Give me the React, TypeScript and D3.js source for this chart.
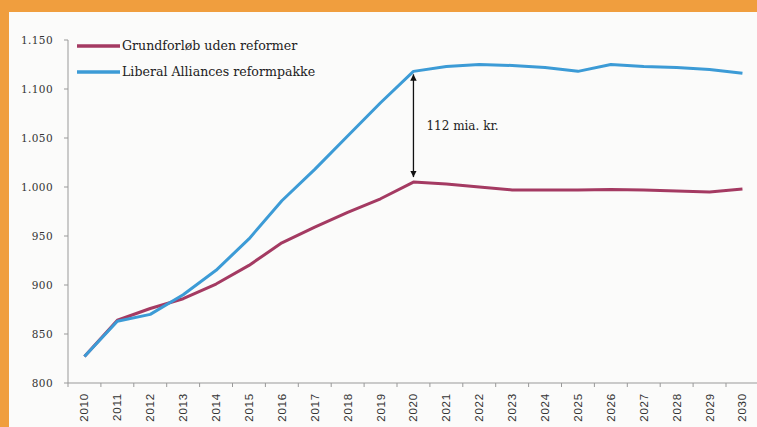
import React from "react";
import * as d3 from "d3";

const years = d3.range(2010, 2031).map(String);
const baseline = [827, 864, 876, 886, 901, 920, 943, 959, 974, 988, 1005, 1003, 1000, 997, 997, 997, 997.5, 997, 996, 995, 998];
const reform = [827, 863, 870, 890, 915, 947, 986, 1018, 1052, 1086, 1118, 1123, 1125, 1124, 1122, 1118, 1125, 1123, 1122, 1120, 1116];
const yTicks = [800, 850, 900, 950, 1000, 1050, 1100, 1150];
const seriesNames = ["Grundforløb uden reformer", "Liberal Alliances reformpakke"];
const annotation = "112 mia. kr.";

const W = 757, H = 427;
const RED = "#A43A62";
const BLUE = "#3C9BD6";
const ORANGE = "#F09E3E";
const SERIF = "DejaVu Serif, serif";
const SANS = "Liberation Sans, Arial, sans-serif";

const fmt = (v: number) => (v >= 1000 ? d3.format(",")(v).replace(",", ".") : String(v));

export default function App() {
  const x = d3.scaleBand<string>().domain(years).range([68, 68 + 21 * 32.9]);
  const y = d3.scaleLinear().domain([800, 1150]).range([383, 40]);
  const cx = (yr: string) => (x(yr) as number) + x.bandwidth() / 2;
  const line = d3.line<number>().x((_, i) => cx(years[i])).y((d) => y(d));
  const arrowX = cx("2020");
  const i2020 = years.indexOf("2020");
  const yTop = y(reform[i2020]) + 3;
  const yBot = y(baseline[i2020]) - 5;

  return (
    <svg width={W} height={H} style={{ position: "absolute", left: 0, top: 0, display: "block" }}>
      <defs>
        <marker id="ah" viewBox="0 0 10 10" refX="10" refY="5" markerWidth="5" markerHeight="5" orient="auto-start-reverse">
          <path d="M0,0 L10,5 L0,10 z" fill="#111" />
        </marker>
      </defs>
      <rect x={0} y={0} width={W} height={H} fill={ORANGE} />
      <rect x={9} y={12} width={W - 9} height={H - 12} fill="#FBFBFA" />
      {/* y axis */}
      <line x1={68} x2={68} y1={y(1150)} y2={383} stroke="#999" strokeWidth={1} />
      {yTicks.map((t) => (
        <g key={t}>
          <line x1={64} x2={68} y1={y(t)} y2={y(t)} stroke="#999" />
          <text x={53} y={y(t)} dy="0.35em" textAnchor="end" style={{ fontFamily: SERIF, fontSize: "10.5px", letterSpacing: "0.4px" }} fill="#333">
            {fmt(t)}
          </text>
        </g>
      ))}
      {/* x axis */}
      <line x1={68} x2={W} y1={383} y2={383} stroke="#999" strokeWidth={1} />
      {years.map((yr) => (
        <g key={yr}>
          <line x1={x(yr) as number} x2={x(yr) as number} y1={383} y2={387} stroke="#999" />
          <text
            transform={`translate(${cx(yr) + 4},${393}) rotate(-90)`}
            textAnchor="end"
            style={{ fontFamily: SANS, fontSize: "11.5px", letterSpacing: "0.8px" }}
            fill="#333"
          >
            {yr}
          </text>
        </g>
      ))}
      <path d={line(baseline) || ""} fill="none" stroke={RED} strokeWidth={3} strokeLinejoin="round" />
      <path d={line(reform) || ""} fill="none" stroke={BLUE} strokeWidth={3} strokeLinejoin="round" />
      {/* arrow */}
      <line x1={arrowX} x2={arrowX} y1={yTop} y2={yBot} stroke="#111" strokeWidth={1.3} markerStart="url(#ah)" markerEnd="url(#ah)" />
      <text x={arrowX + 13} y={(yTop + yBot) / 2 + 4} style={{ fontFamily: SERIF, fontSize: "12px" }} fill="#222">
        {annotation}
      </text>
      {/* legend */}
      {seriesNames.map((n, i) => (
        <g key={n}>
          <line x1={77} x2={120} y1={46 + i * 26} y2={46 + i * 26} stroke={i === 0 ? RED : BLUE} strokeWidth={3.5} />
          <text x={122} y={46 + i * 26} dy="0.35em" style={{ fontFamily: SERIF, fontSize: "12.6px" }} fill="#222">
            {n}
          </text>
        </g>
      ))}
    </svg>
  );
}
